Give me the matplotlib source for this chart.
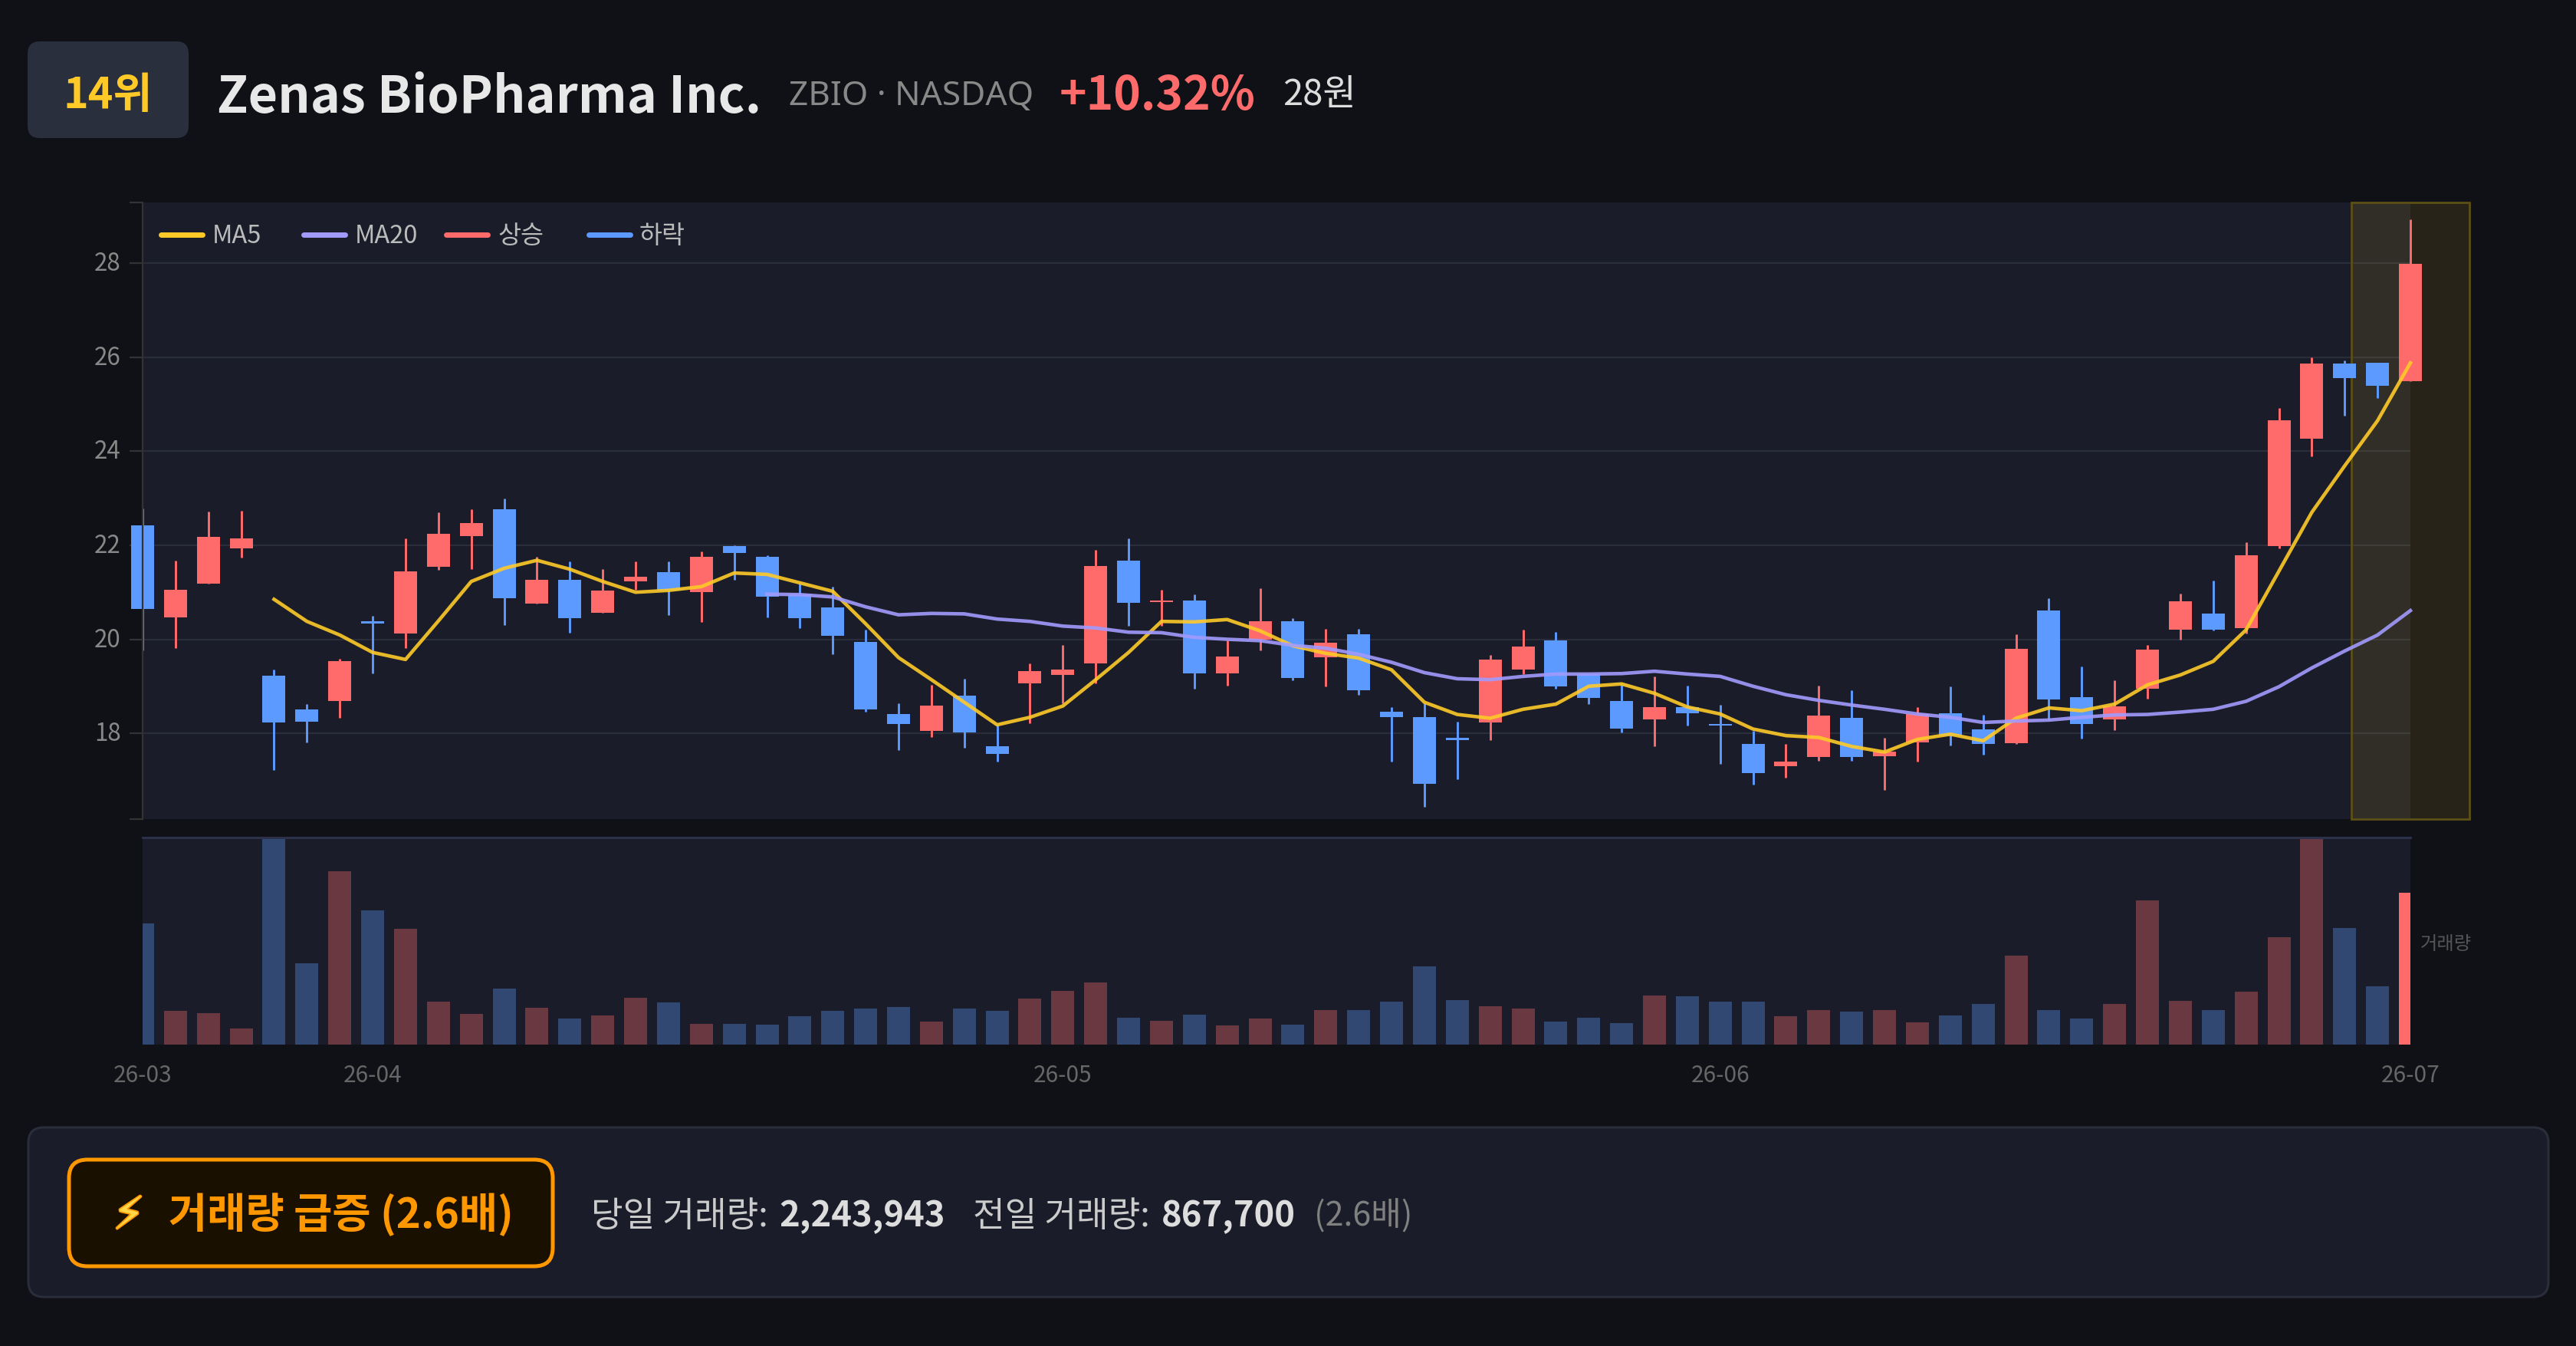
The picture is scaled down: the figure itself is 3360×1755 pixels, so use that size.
import matplotlib
matplotlib.use("Agg")
import matplotlib.pyplot as plt
import matplotlib.patheffects as pe
from matplotlib.lines import Line2D
from matplotlib.patches import FancyBboxPatch
from matplotlib.transforms import ScaledTranslation
import numpy as np

plt.rcParams['font.family'] = ['Noto Sans CJK KR', 'DejaVu Sans']

W, H = 3360, 1755

# Données
opens = [22.42, 20.47, 21.19, 21.93, 19.23, 18.50, 18.68, 20.38, 20.13, 21.54,
         22.20, 22.76, 20.76, 21.27, 20.56, 21.23, 21.43, 21.00, 21.99, 21.76,
         20.96, 20.67, 19.95, 18.41, 18.05, 18.80, 17.72, 19.06, 19.24, 19.48,
         21.68, 20.79, 20.83, 19.28, 20.00, 20.39, 19.61, 20.10, 18.45, 18.35,
         17.91, 18.23, 19.36, 19.98, 19.26, 18.68, 18.29, 18.56, 18.20, 17.78,
         17.30, 17.49, 18.33, 17.51, 17.81, 18.42, 18.08, 17.79, 20.61, 18.76,
         18.30, 18.94, 20.21, 20.54, 20.24, 21.98, 24.27, 25.86, 25.89, 25.49]
closes = [20.64, 21.05, 22.18, 22.15, 18.23, 18.25, 19.54, 20.34, 21.45, 22.25,
          22.47, 20.87, 21.27, 20.45, 21.04, 21.33, 21.04, 21.75, 21.83, 20.91,
          20.45, 20.08, 18.50, 18.20, 18.59, 18.02, 17.56, 19.32, 19.36, 21.56,
          20.77, 20.83, 19.28, 19.64, 20.39, 19.18, 19.93, 18.92, 18.35, 16.93,
          17.85, 19.56, 19.84, 18.99, 18.75, 18.10, 18.56, 18.42, 18.17, 17.15,
          17.40, 18.37, 17.49, 17.61, 18.41, 17.96, 17.77, 19.79, 18.72, 18.20,
          18.58, 19.78, 20.80, 20.21, 21.79, 24.66, 25.86, 25.56, 25.39, 27.99]
highs = [22.79, 21.67, 22.71, 22.74, 19.35, 18.62, 19.59, 20.49, 22.14, 22.70,
         22.76, 23.00, 21.76, 21.65, 21.50, 21.66, 21.65, 21.87, 22.00, 21.79,
         21.18, 21.12, 20.20, 18.64, 19.03, 19.16, 18.18, 19.48, 19.87, 21.90,
         22.15, 21.06, 20.96, 19.97, 21.09, 20.45, 20.22, 20.22, 18.56, 18.63,
         18.25, 19.67, 20.20, 20.16, 19.26, 19.03, 19.21, 19.02, 18.60, 18.05,
         17.78, 19.02, 18.92, 17.91, 18.55, 19.00, 18.39, 20.11, 20.87, 19.42,
         19.12, 19.88, 20.97, 21.25, 22.06, 24.92, 26.00, 25.93, 25.89, 28.94]
lows = [19.77, 19.82, 21.19, 21.74, 17.22, 17.81, 18.32, 19.28, 19.82, 21.47,
        21.50, 20.31, 20.76, 20.14, 20.56, 21.06, 20.51, 20.37, 21.27, 20.46,
        20.24, 19.68, 18.45, 17.65, 17.92, 17.69, 17.40, 18.21, 18.63, 19.06,
        20.29, 20.29, 18.94, 19.02, 19.77, 19.12, 19.00, 18.81, 17.40, 16.43,
        17.03, 17.86, 19.26, 18.94, 18.62, 18.01, 17.72, 18.16, 17.35, 16.90,
        17.06, 17.41, 17.41, 16.79, 17.40, 17.74, 17.54, 17.78, 18.30, 17.88,
        18.07, 18.73, 20.00, 20.19, 20.13, 21.93, 23.90, 24.75, 25.13, 25.49]
ma5 = [None] * 4 + [20.85, 20.38, 20.09, 19.72, 19.57, 20.39, 21.23, 21.51, 21.68, 21.49,
                    21.23, 21.00, 21.04, 21.12, 21.41, 21.38, 21.20, 21.02, 20.33, 19.61,
                    19.14, 18.66, 18.18, 18.34, 18.58, 19.14, 19.72, 20.38, 20.37, 20.42,
                    20.18, 19.86, 19.70, 19.60, 19.35, 18.66, 18.40, 18.32, 18.51, 18.62,
                    19.00, 19.05, 18.85, 18.56, 18.41, 18.09, 17.95, 17.91, 17.72, 17.60,
                    17.87, 17.98, 17.84, 18.32, 18.54, 18.48, 18.62, 19.03, 19.24, 19.53,
                    20.20, 21.45, 22.70, 23.69, 24.65, 25.88]
ma20 = [None] * 19 + [20.96, 20.95, 20.90, 20.69, 20.52, 20.55, 20.54, 20.43, 20.38, 20.28,
                      20.24, 20.15, 20.14, 20.04, 20.00, 19.97, 19.87, 19.81, 19.68, 19.51,
                      19.29, 19.16, 19.14, 19.21, 19.26, 19.26, 19.27, 19.32, 19.26, 19.21,
                      19.00, 18.82, 18.70, 18.60, 18.51, 18.41, 18.34, 18.23, 18.26, 18.28,
                      18.34, 18.39, 18.40, 18.45, 18.51, 18.68, 18.99, 19.39, 19.75, 20.09,
                      20.61]
volumes = [1788, 500, 460, 235, 3065, 1200, 2564, 1982, 1716, 638,
           455, 833, 547, 383, 429, 695, 628, 312, 312, 296,
           424, 500, 531, 557, 337, 531, 495, 684, 792, 914,
           393, 347, 444, 286, 383, 291, 511, 506, 638, 1160,
           654, 567, 531, 337, 398, 317, 730, 720, 633, 632,
           416, 507, 492, 507, 333, 431, 605, 1320, 511, 390,
           602, 2130, 643, 511, 787, 1589, 3065, 1729, 868, 2244]
month_idx = [0, 7, 28, 48, 69]
month_labels = ["26-03", "26-04", "26-05", "26-06", "26-07"]
price_ticks = [18, 20, 22, 24, 26, 28]

BG = "#0f1117"
PANEL = "#1a1d29"
BORDER = "#2a2d3a"
RED = "#ff6b6b"
BLUE = "#5c9aff"
YELLOW = "#ffca28"
PURPLE = "#a29bfe"
ORANGE = "#ff9800"


def rect_fig(left, top, right, bottom):
    return [left / W, 1 - bottom / H, (right - left) / W, (bottom - top) / H]


def put_text(x, y, s, **kw):
    return fig.text(x / W, 1 - y / H, s, va="baseline", **kw)


fig = plt.figure(figsize=(W / 100, H / 100), dpi=100, facecolor=BG)

# Fond en coordonnées pixels pour les cadres
bg = fig.add_axes([0, 0, 1, 1], zorder=-1)
bg.set_xlim(0, W)
bg.set_ylim(H, 0)
bg.axis("off")

bg.add_patch(FancyBboxPatch((36 + 16, 54 + 16), 210 - 32, 126 - 32, boxstyle="round,pad=16,rounding_size=16",
                            facecolor="#2a2f3d", edgecolor="none"))
bg.add_patch(FancyBboxPatch((37 + 20, 1470 + 20), 3287 - 40, 221 - 40, boxstyle="round,pad=20,rounding_size=20",
                            facecolor=PANEL, edgecolor=BORDER, linewidth=2.2))
bg.add_patch(FancyBboxPatch((90 + 24, 1512 + 24), 631 - 48, 139 - 48, boxstyle="round,pad=24,rounding_size=24",
                            facecolor="#1a1000", edgecolor=ORANGE, linewidth=3.6))

# En-tête
put_text(141, 141, "14위", color=YELLOW, fontsize=40, fontweight="bold", ha="center")
put_text(283, 147, "Zenas BioPharma Inc.", color="#e8e8e8", fontsize=47.8, fontweight="bold")
put_text(1029, 137, "ZBIO · NASDAQ", color="#888888", fontsize=31.8, family=["Noto Sans", "DejaVu Sans"])
put_text(1382, 143, "+10.32%", color=RED, fontsize=43.5, fontweight="bold")
put_text(1673, 137, "28원", color="#dddddd", fontsize=34)

# Prix
x = np.arange(len(opens))
opens_a = np.array(opens)
closes_a = np.array(closes)
up = closes_a >= opens_a
colors = [RED if u else BLUE for u in up]

ax = fig.add_axes(rect_fig(186, 263.6, 3144, 1067.6), facecolor=PANEL)
ax.set_xlim(0, 69)
ax.set_ylim(16.18, 29.30)
ax.set_axisbelow(True)
ax.grid(axis="y", color=BORDER, linewidth=1.6)
ax.axvspan(67.2, 70.8, facecolor=YELLOW, alpha=0.1, edgecolor="none", clip_on=False, zorder=1)
ax.axvspan(67.2, 70.8, facecolor="none", edgecolor="#5c5015", linewidth=2, clip_on=False, zorder=1.1)

ax.vlines(x, lows, highs, colors=colors, linewidth=2.1, clip_on=False, zorder=2.5)
ax.bar(x, np.abs(closes_a - opens_a), bottom=np.minimum(opens_a, closes_a), width=0.7, color=colors,
       clip_on=False, zorder=3)
ax.plot(x, np.array(ma5, dtype=float), color=YELLOW, linewidth=3.3, alpha=0.9, clip_on=False, zorder=4)
ax.plot(x, np.array(ma20, dtype=float), color=PURPLE, linewidth=3.3, alpha=0.9, clip_on=False, zorder=4)

for name in ["top", "right", "bottom"]:
    ax.spines[name].set_visible(False)
ax.spines["left"].set_color("#333333")
ax.spines["left"].set_linewidth(1.6)
ax.spines["left"].set_zorder(5)
ax.set_xticks([])
ax.set_yticks(price_ticks)
ax.set_yticks(list(ax.get_ylim()), minor=True)
ax.tick_params(axis="y", which="both", length=12.5, width=1.6, color="#333333", labelcolor="#888888",
               labelsize=22.5, pad=8)
# Les étiquettes sont un peu plus haut que les lignes
shift_up = ScaledTranslation(0, 2.5 / 100, fig.dpi_scale_trans)
for lab in ax.get_yticklabels():
    lab.set_transform(lab.get_transform() + shift_up)

# Légende
legend_items = [("MA5", YELLOW, 207, 277), ("MA20", PURPLE, 393, 463), ("상승", RED, 579, 649), ("하락", BLUE, 765, 834)]
for label, col, x0, tx in legend_items:
    fig.add_artist(Line2D([(x0 + 3) / W, (x0 + 57) / W], [1 - 306 / H, 1 - 306 / H], color=col, linewidth=5,
                          solid_capstyle="round", zorder=6))
    put_text(tx, 317, label, color="#bbbbbb", fontsize=23.5, zorder=6)

# Volume
vol_colors = [(RED if u else BLUE) for u in up]
ax2 = fig.add_axes(rect_fig(186, 1092, 3144, 1362), facecolor=PANEL)
ax2.set_xlim(0, 69)
ax2.set_ylim(0, 3065)
bars = ax2.bar(x, volumes, width=0.7, color=vol_colors, alpha=0.35, linewidth=0)
bars[-1].set_alpha(1)
for name in ["left", "right", "bottom"]:
    ax2.spines[name].set_visible(False)
ax2.spines["top"].set_color("#2c3048")
ax2.spines["top"].set_linewidth(2.2)
ax2.set_yticks([])
ax2.set_xticks(month_idx)
ax2.set_xticklabels(month_labels)
ax2.tick_params(axis="x", length=0, labelcolor="#666666", labelsize=21.5, pad=18)
put_text(3157, 1238, "거래량", color="#555555", fontsize=17.5)

# Bandeau du bas
t = put_text(168, 1602, "⚡", color="#ffd84a", fontsize=42, ha="center", family=["DejaVu Sans"])
t.set_path_effects([pe.withStroke(linewidth=2.5, foreground=ORANGE)])
put_text(220, 1601, "거래량 급증 (2.6배)", color=ORANGE, fontsize=39.3, fontweight="bold")
put_text(771, 1599, "당일 거래량:", color="#cccccc", fontsize=32.6)
put_text(1016, 1599, "2,243,943", color="#dddddd", fontsize=32.6, fontweight="bold")
put_text(1269, 1599, "전일 거래량:", color="#cccccc", fontsize=32.6)
put_text(1515, 1599, "867,700", color="#dddddd", fontsize=32.6, fontweight="bold")
put_text(1714, 1599, "(2.6배)", color="#808080", fontsize=31)

fig.savefig("out.png", dpi=100, facecolor=BG)
